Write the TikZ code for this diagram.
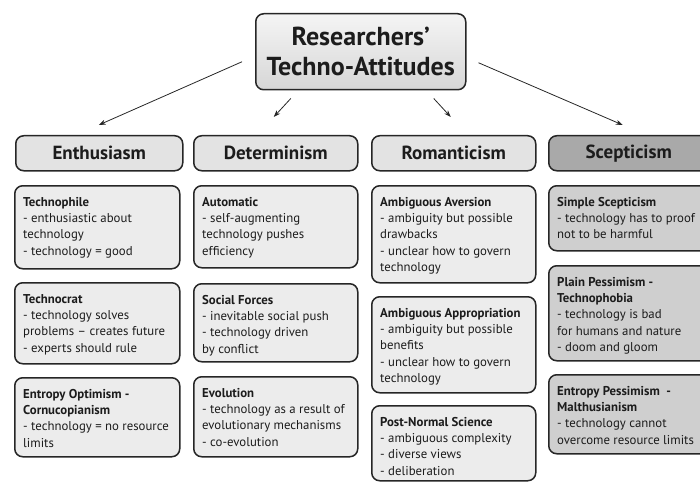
\documentclass[tikz,border=0pt]{standalone}
\usepackage{fontspec}
\setmainfont{PT Sans}
\usetikzlibrary{arrows.meta}
\definecolor{edge}{HTML}{262626}
\definecolor{ink}{HTML}{1C1C1C}
\definecolor{lightfill}{HTML}{ECECEC}
\definecolor{catfill}{HTML}{E3E3E3}
\definecolor{scepcat}{HTML}{A9A9A9}
\definecolor{scepsub}{HTML}{CFCFCF}
\tikzset{
  boxbase/.style={draw=edge, line width=1.5pt, rounded corners=8pt, inner sep=0pt, anchor=north west},
  catbox/.style={boxbase, fill=catfill, text=ink, font=\bfseries\fontsize{19}{22}\selectfont},
  subbox/.style={boxbase, fill=lightfill},
  scsubbox/.style={boxbase, fill=scepsub},
  subtext/.style={anchor=north west, inner sep=0pt, align=left, text=ink, font=\fontsize{12.8}{16.3}\selectfont},
  arr/.style={draw=edge, line width=0.8pt, -{Stealth[length=7pt,width=5pt]}}
}
\newcommand{\mybox}[7]{% style, name, x1, y1, x2, y2, text
  \node[#1, minimum width={#5-#3}, minimum height={#6-#4}] (#2) at (#3,#4) {};
  \node[subtext] (#2t) at (#3+9,#4+12) {#7};
}
\begin{document}
\begin{tikzpicture}[x=1pt,y=-1pt]
\useasboundingbox (0,0) rectangle (700,481);
\clip (0,0) rectangle (700,481);
% title
\node[boxbase, top color=gray!8, bottom color=gray!32, minimum width=210, minimum height=76, text=ink,
      align=center, font=\bfseries\fontsize{26}{30}\selectfont] (top) at (255,13) {Researchers'\\Techno-Attitudes};
% categories
\node[catbox, minimum width=167, minimum height=35] (enth) at (15,135) {Enthusiasm};
\node[catbox, minimum width=164, minimum height=35] (det) at (193,135) {Determinism};
\node[catbox, minimum width=164, minimum height=35] (rom) at (371,135) {Romanticism};
\node[catbox, fill=scepcat, minimum width=160, minimum height=35] (scep) at (548,135) {Scepticism};
% arrows
\draw[arr] ([xshift=-13pt,yshift=-10pt]top.west) -- ([xshift=-0.5pt,yshift=10pt]enth.north);
\draw[arr] ([xshift=-70pt,yshift=-8pt]top.south) -- ([xshift=-2pt,yshift=18pt]det.north);
\draw[arr] ([xshift=73pt,yshift=-8pt]top.south) -- ([xshift=-3pt,yshift=18pt]rom.north);
\draw[arr] ([xshift=12pt,yshift=-11pt]top.east) -- ([xshift=-6pt,yshift=10pt]scep.north);
% enthusiasm column
\mybox{subbox}{a1}{14}{185}{179}{268}{\textbf{Technophile}\\- enthusiastic about\\technology\\- technology = good}
\mybox{subbox}{a2}{14}{282}{179}{363}{\textbf{Technocrat}\\- technology solves\\problems – creates future\\- experts should rule}
\mybox{subbox}{a3}{14}{377}{179}{456}{\textbf{Entropy Optimism -}\\\textbf{Cornucopianism}\\- technology = no resource\\limits}
% determinism column
\mybox{subbox}{b1}{193}{185}{357}{267}{\textbf{Automatic}\\- self-augmenting\\technology pushes\\efficiency}
\mybox{subbox}{b2}{193}{283}{357}{361}{\textbf{Social Forces}\\- inevitable social push\\- technology driven\\by conflict}
\mybox{subbox}{b3}{193}{376}{357}{456}{\textbf{Evolution}\\- technology as a result of\\evolutionary mechanisms\\- co-evolution}
% romanticism column
\mybox{subbox}{c1}{371}{185}{535}{282}{\textbf{Ambiguous Aversion}\\- ambiguity but possible\\drawbacks\\- unclear how to govern\\technology}
\mybox{subbox}{c2}{371}{296}{535}{392}{\textbf{Ambiguous Appropriation}\\- ambiguity but possible\\benefits\\- unclear how to govern\\technology}
\mybox{subbox}{c3}{371}{405}{535}{480}{\textbf{Post-Normal Science}\\- ambiguous complexity\\- diverse views\\- deliberation}
% scepticism column
\mybox{scsubbox}{d1}{548}{185}{710}{250}{\textbf{Simple Scepticism}\\- technology has to proof\\not to be harmful}
\mybox{scsubbox}{d2}{548}{265}{710}{360}{\textbf{Plain Pessimism -}\\\textbf{Technophobia}\\- technology is bad\\for humans and nature\\- doom and gloom}
\mybox{scsubbox}{d3}{548}{374}{710}{453}{\textbf{Entropy Pessimism\ \ -}\\\textbf{Malthusianism}\\- technology cannot\\overcome resource limits}
\end{tikzpicture}
\end{document}
